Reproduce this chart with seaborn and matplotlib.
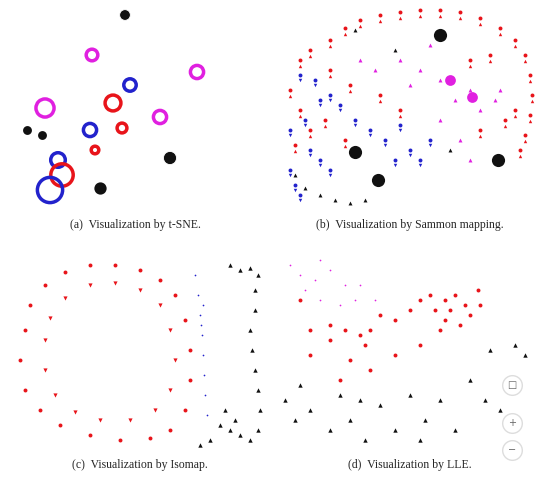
import matplotlib
matplotlib.use("Agg")
import matplotlib.pyplot as plt
import seaborn as sns

sns.set_style("white")
plt.rcParams['font.family'] = ['Liberation Serif', 'DejaVu Serif']

RED, BLUE, MAG, BLK = '#e8141a', '#2222cc', '#e020e0', '#111111'

# ---- panel (a): t-SNE clusters (ring / blob glyphs) ----
a_x = [92, 197, 45, 160, 113, 130, 90, 58, 95, 122, 100, 27, 42, 62, 50]
a_y = [55, 72, 108, 117, 103, 85, 130, 160, 150, 128, 188, 130, 135, 175, 190]
a_col = [MAG, MAG, MAG, MAG, RED, BLUE, BLUE, BLUE, RED, RED, BLK, BLK, BLK, RED, BLUE]
a_size = [70, 90, 170, 90, 130, 80, 90, 110, 30, 50, 40, 15, 15, 260, 330]
a_fill = [False]*10 + [True, True, True, False, False]
a_blob_x = [125, 170]
a_blob_y = [15, 158]

# ---- panel (b): Sammon mapping ----
b_red_x = [330,345,360,380,400,420,440,460,480,500,515,525,530,532,530,525,520,300,310,290,300,310,295,470,490,505,515,480,330,350,380,400,325,345]
b_red_y = [40,28,20,15,12,10,10,12,18,28,40,55,75,95,115,135,150,60,50,90,110,130,145,60,55,120,110,130,70,85,95,110,120,140]
b_blue_x = [290,295,300,310,320,330,305,320,340,355,370,385,400,410,420,300,315,330,290,395,430]
b_blue_y = [170,185,195,150,160,170,120,100,105,120,130,140,125,150,160,75,80,95,130,160,140]
b_mag_x = [400,420,440,455,470,480,495,440,430,410,375,360,460,470,500]
b_mag_y = [60,70,80,100,90,110,100,120,45,85,70,60,140,160,90]
b_blk_x = [295,305,320,335,350,365,355,395,450]
b_blk_y = [175,188,195,200,203,200,30,50,150]
b_blob_x = [355, 378, 498, 440]
b_blob_y = [152, 180, 160, 35]
b_magblob_x = [450, 472]
b_magblob_y = [80, 97]

# ---- panel (c): Isomap ----
c_red_x = [25,20,25,40,60,90,120,150,170,185,190,190,185,175,160,140,115,90,65,45,30]
c_red_y = [330,360,390,410,425,435,440,438,430,410,380,350,320,295,280,270,265,265,272,285,305]
c_tri_x = [45,45,55,75,100,130,155,170,175,170,160,140,115,90,65,50]
c_tri_y = [340,370,395,412,420,420,410,390,360,330,305,290,283,285,298,318]
c_blue_x = [195,198,200,202,203,204,205,207,203,201]
c_blue_y = [275,295,315,335,355,375,395,415,305,325]
c_blk_x = [230,240,250,258,255,255,250,252,255,258,260,258,250,240,230,220,210,200,235,225]
c_blk_y = [265,270,268,275,290,310,330,350,370,390,410,430,440,435,430,425,440,445,420,410]

# ---- panel (d): LLE ----
d_red_x = [420,430,445,455,465,470,460,445,435,450,440,410,395,380,370,360,345,330,480,478,300,310,330,350,365,395,420,370,340,310]
d_red_y = [300,295,300,295,305,315,325,320,310,310,330,310,320,315,330,335,330,325,305,290,300,330,340,360,345,355,345,370,380,355]
d_mag_x = [290,300,315,330,345,355,340,320,305,320,360,375]
d_mag_y = [265,275,280,270,285,300,305,300,290,260,285,300]
d_blk_x = [285,295,310,330,350,365,380,395,410,425,440,455,470,485,500,515,525,490,300,340,360,420]
d_blk_y = [400,420,410,430,420,440,405,430,395,420,400,430,380,400,410,345,355,350,385,395,400,440]

captions = ["(a)  Visualization by t-SNE.", "(b)  Visualization by Sammon mapping.",
            "(c)  Visualization by Isomap.", "(d)  Visualization by LLE."]
cap_x = [135, 410, 140, 410]
cap_y = [225, 225, 465, 465]

fig = plt.figure(figsize=(5.4, 4.8), dpi=100)
ax = fig.add_axes([0, 0, 1, 1])

# (a)
for x, y, c, s, f in zip(a_x, a_y, a_col, a_size, a_fill):
    ax.scatter([x], [y], s=s, marker='o', facecolors=c if f else 'none',
               edgecolors=c, linewidths=2.5)
sns.scatterplot(x=a_blob_x, y=a_blob_y, color=BLK, s=[60, 90], marker='o', ax=ax, legend=False)

def pts(x, y, c, m, s=6):
    sns.scatterplot(x=x, y=y, color=c, marker=m, s=s, ax=ax, linewidth=0, legend=False)

# (b)
pts(b_red_x, b_red_y, RED, 'o', 8)
pts(b_red_x, [v + 6 for v in b_red_y], RED, '^', 6)
pts(b_blue_x, b_blue_y, BLUE, 'o', 8)
pts(b_blue_x, [v + 5 for v in b_blue_y], BLUE, 'v', 6)
pts(b_mag_x, b_mag_y, MAG, '^', 8)
pts(b_blk_x, b_blk_y, BLK, '^', 8)
pts(b_blob_x, b_blob_y, BLK, 'o', 90)
pts(b_magblob_x, b_magblob_y, MAG, 'o', 60)
# (c)
pts(c_red_x, c_red_y, RED, 'o', 8)
pts(c_tri_x, c_tri_y, RED, 'v', 9)
pts(c_blue_x, c_blue_y, BLUE, '.', 6)
pts(c_blk_x, c_blk_y, BLK, '^', 10)
# (d)
pts(d_red_x, d_red_y, RED, 'o', 8)
pts(d_mag_x, d_mag_y, MAG, '.', 6)
pts(d_blk_x, d_blk_y, BLK, '^', 10)

for t, x, y in zip(captions, cap_x, cap_y):
    ax.text(x, y, t, ha='center', va='center', fontsize=8.5)

# viewer zoom buttons
for y, t in zip([385, 423, 450], ['□', '+', '−']):
    ax.scatter([512], [y], s=200, color='white', edgecolors='#dddddd', zorder=5)
    ax.text(512, y, t, ha='center', va='center', fontsize=7, color='#666666',
            family=['DejaVu Sans'], zorder=6)

ax.set_xlim(0, 540)
ax.set_ylim(480, 0)
ax.axis('off')
fig.savefig("out.png", dpi=100)
